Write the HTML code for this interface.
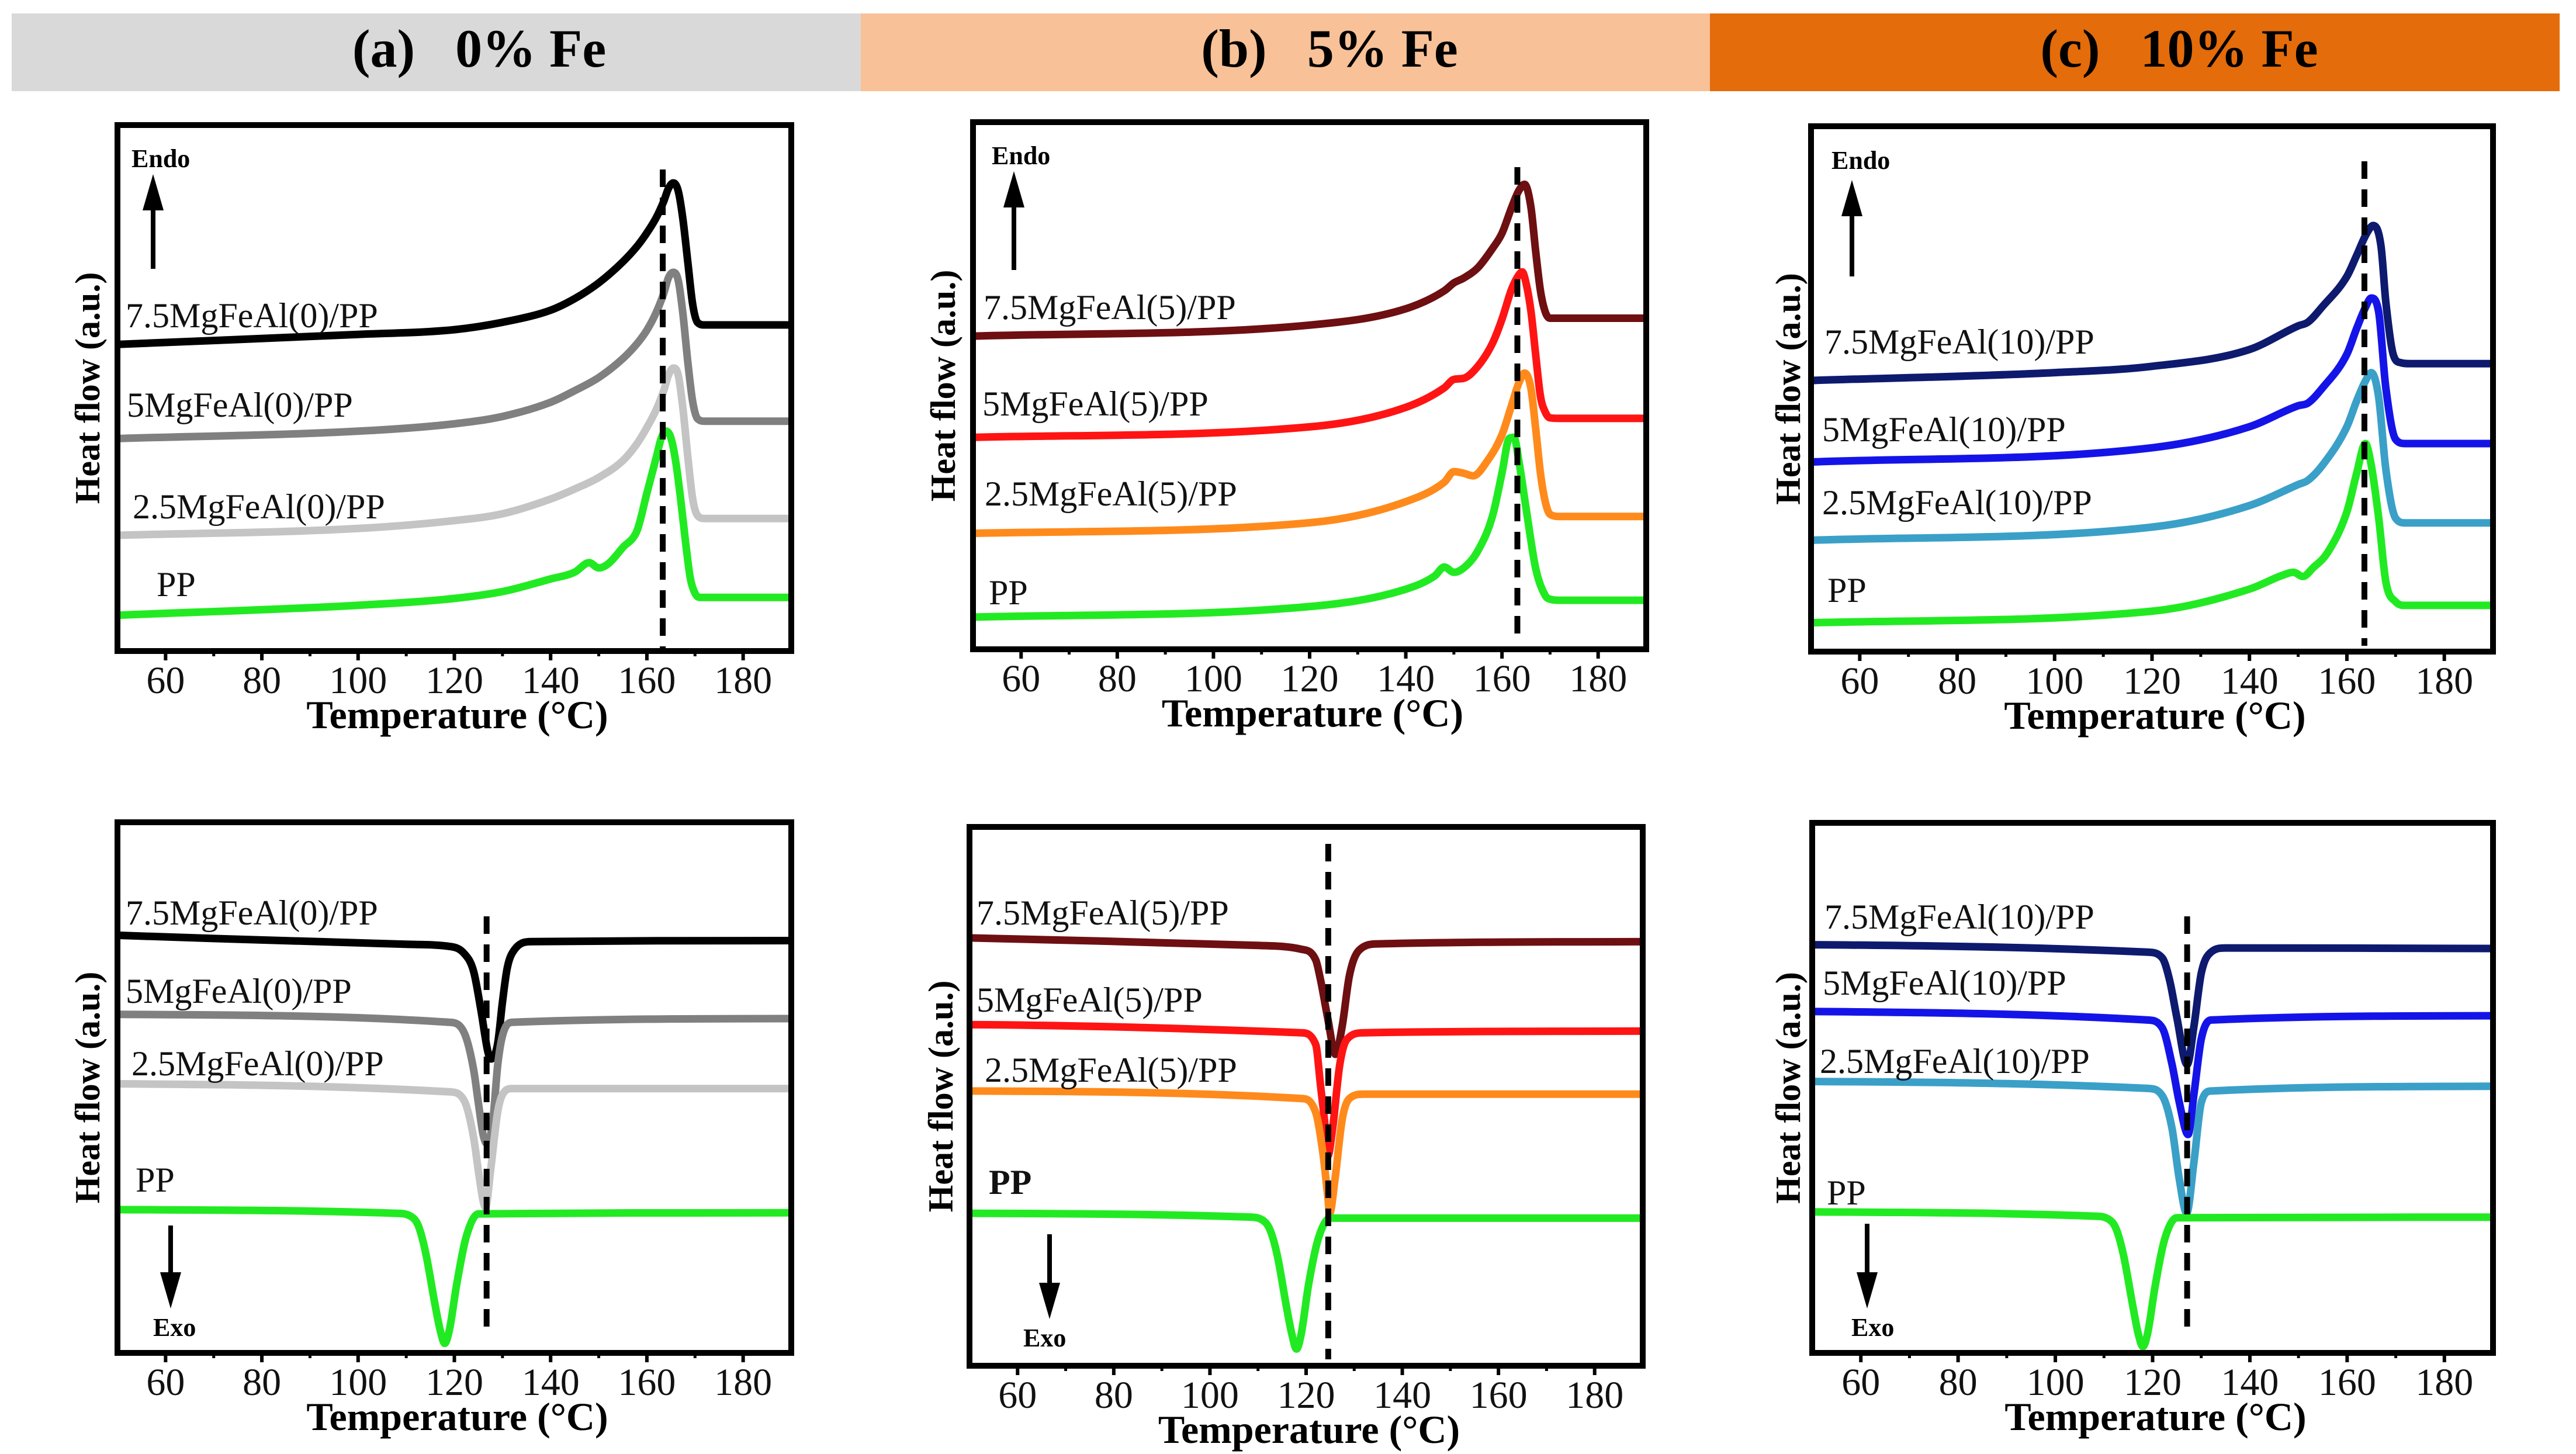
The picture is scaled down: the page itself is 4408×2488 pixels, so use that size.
<!DOCTYPE html>
<html><head><meta charset="utf-8"><style>
html,body{margin:0;padding:0;background:#fff}
svg{display:block}
text{font-family:"Liberation Serif",serif}
</style></head><body>
<svg id="fig" width="4408" height="2488" viewBox="0 0 4408 2488" xmlns="http://www.w3.org/2000/svg">
<rect x="20" y="23" width="1453" height="133" fill="#d9d9d9"/>
<rect x="1473" y="23" width="1453" height="133" fill="#f8c197"/>
<rect x="2926" y="23" width="1454" height="133" fill="#e46c0a"/>
<text x="820" y="114" font-size="92" font-weight="bold" text-anchor="middle" xml:space="preserve">(a)   0% Fe</text>
<text x="2275" y="114" font-size="92" font-weight="bold" text-anchor="middle" xml:space="preserve">(b)   5% Fe</text>
<text x="3729" y="114" font-size="92" font-weight="bold" text-anchor="middle" xml:space="preserve">(c)   10% Fe</text>
</svg>
<script>
// ---- data (temperatures in °C, heat flow as % of panel height) ----
const xTicks = [60, 80, 100, 120, 140, 160, 180];
const xMinor = [70, 90, 110, 130, 150, 170];

// Panel a, melting
const aM_75_T = [50,100,120,130,140,145,150,155,158,160,162,163.5,164.5,165.5,166.5,167.5,168.5,169.5,170.5,172,190];
const aM_75_V = [58.3,60.2,61.1,62.5,64.8,67,70,74,77,79.5,82.5,85.5,88,89,87.5,82,74,66,62.5,62,62];
const aM_5_T = [50,100,120,130,140,145,150,155,158,160,162,163.5,164.5,165.5,166.5,167.5,168.5,169.5,170.5,172,190];
const aM_5_V = [40.4,41.8,43.2,44.6,47.3,49.5,52,55.6,58.5,61,64.5,68,71,72,70.5,64,55,47.5,44.2,43.7,43.7];
const aM_25_T = [50,100,120,130,140,145,150,155,158,160,162,163.5,164.5,165.5,166.5,167.5,168.5,169.5,170.5,172,190];
const aM_25_V = [22,23.3,24.8,26.1,28.9,30.8,33,36.2,39.5,42.5,46,49.5,52.5,53.8,52.5,46,37,29,25.8,25.2,25.2];
const aM_pp_T = [50,100,120,130,140,145,148,150,152,155,158,160,162,163,164,165,166,167,168,169,170,171,190];
const aM_pp_V = [6.8,8.7,10,11.3,13.7,15,16.8,15.8,16.6,19.7,23,30,37,40.5,41.8,40.5,36,29,21,14,11,10.2,10.2];
// Panel b, melting
const bM_75_T = [50,120,140,148,150,152,155,158,160,162,163.5,164.7,166,167,168,169,170,172,190];
const bM_75_V = [59.4,61.5,64.6,68,69.5,70.4,72.4,76,78.9,83.8,87,88.2,84,75.6,68,64,62.8,62.8,62.8];
const bM_5_T = [50,120,140,148,150,152,155,158,160,162,163.5,164.2,165,166,167,168,169,170,172,190];
const bM_5_V = [40.2,42.2,45.9,49.6,51.2,51.4,53.7,58,62.6,68.3,71,71.6,69.5,64.3,56,48,45,43.9,43.8,43.8];
const bM_25_T = [50,120,140,148,150,152,154,157,160,162,163.5,164.7,166,167,168,169,170,172,190];
const bM_25_V = [22,24,28,31.7,33.7,33.4,32.9,35.8,40.7,46.3,50.5,52.4,49.6,42,33.4,28,25.6,25.2,25.2];
const bM_pp_T = [50,120,140,146,148,150,152,155,158,160,161.5,162.5,163.5,165,167,169,170,172,190];
const bM_pp_V = [6.1,8.1,11.4,13.9,15.6,14.6,15.4,18.7,25.2,33.4,40,40.2,35.8,26.8,15.4,10.2,9.5,9.3,9.3];
// Panel c, melting
const cM_75_T = [50,100,120,140,150,152,155,160,162,164,165.4,167,168,169.5,171,173,190];
const cM_75_V = [51.6,53.1,54.3,57.5,62,62.7,65.7,71.4,75.4,79.5,81.1,77.2,66.5,56.6,55,54.8,54.8];
const cM_5_T = [50,120,140,150,152,155,160,162,163.8,165,166.5,168,170,172,190];
const cM_5_V = [36.1,38.8,42.8,46.8,47.3,50.2,56.6,61.5,65.5,67.3,64.8,50.2,40.4,39.6,39.6];
const cM_25_T = [50,120,140,150,152,155,160,162,163.8,165,166.5,168,170,172,190];
const cM_25_V = [21.2,23.7,27.8,31.8,32.6,35.5,42.8,47.7,51.5,53.1,48.6,34.7,25.4,24.5,24.5];
const cM_pp_T = [50,120,140,147,149,151,153,156,160,162,163.8,165,166.5,168,170,172,190];
const cM_pp_V = [5.5,7.7,11.9,14.6,15.1,14.3,15.9,18.8,26.6,33.9,39.6,35.5,25.7,13.3,9.5,8.8,8.8];
// Panel a, crystallization
const aC_75_T = [50,110,119,122,124,125.5,127,127.6,129,130,131,132.5,136,190];
const aC_75_V = [78.7,77,76.6,75.3,71.9,64.7,56.6,55.4,58.3,66.2,72.6,76,77.5,77.7];
const aC_5_T = [50,119,122,124,125,126,126.8,128,129,130,132,190];
const aC_5_V = [63.8,62.3,60.4,53.4,47,41,39.4,43.8,54.2,59.8,62.3,63];
const aC_25_T = [50,119,122,124,125,126,126.5,127.5,129,130,132,190];
const aC_25_V = [50.7,49.2,47.6,40.6,34.2,28.5,27.4,34.2,45.4,48.7,49.8,49.8];
const aC_pp_T = [50,108,111,112.5,114,116,117,118,119,120.5,122.5,125,190];
const aC_pp_V = [27,26.3,25.7,24,19,9,4.5,1.8,4.5,13,22,26.2,26.4];
// Panel b, crystallization
const bC_75_T = [50,110,119,122,123,124.5,126.1,127.5,129,131,135,190];
const bC_75_V = [79.4,78,77.3,75.3,71.6,64.5,57.8,63,72.4,77.1,78.3,78.7];
const bC_5_T = [50,119,122,123,124,124.5,125.5,127,128.5,132,190];
const bC_5_V = [63.3,61.8,59.6,52,44,38.9,44,55.9,60.6,61.8,62.1];
const bC_25_T = [50,119,122,123.5,124.5,124.9,126,127.5,129,132,190];
const bC_25_V = [51,49.6,47,39.4,31.5,28.3,34.6,45.7,49.6,50.4,50.4];
const bC_pp_T = [50,108,111,112.5,114,116,117,118,119,120.5,122.5,125,190];
const bC_pp_V = [28.3,27.6,27,25.2,20.5,10.5,6,3.1,6,15,23.5,27.4,27.4];
// Panel c, crystallization
const cC_75_T = [50,119,122,123.5,125,127.1,128.5,130,132,135,190];
const cC_75_V = [77,75.6,74.5,70.3,63.2,54.4,61.6,71.6,75.6,76.4,76.3];
const cC_5_T = [50,119,122,124,125.5,127.3,128.5,130,132,190];
const cC_5_V = [64.4,62.8,61.3,54.4,47.2,41.2,48.8,59.2,62.8,63.6];
const cC_25_T = [50,119,122,124,125.5,127,128.5,130,132,190];
const cC_25_V = [51.2,49.9,48.5,42.3,32.7,26.4,36,47.2,49.4,50.3];
const cC_pp_T = [50,108,111,112.5,114,116,117,118,119,120.5,122.5,125,190];
const cC_pp_V = [26.6,25.8,25.2,23.4,18.5,8.5,3.8,1.2,3.8,12.5,21.5,25.5,25.6];
// reference (dashed) temperatures
const refTemps = [163.3, 163.2, 163.6, 126.7, 124.6, 127.1];

const NS = "http://www.w3.org/2000/svg";
const svg = document.getElementById('fig');
function mk(tag, attrs, parent){
  const e = document.createElementNS(NS, tag);
  for (const k in attrs) e.setAttribute(k, attrs[k]);
  (parent||svg).appendChild(e);
  return e;
}
function monoPath(pts){
  const n = pts.length; const d=[], m=[];
  for (let i=0;i<n-1;i++) d.push((pts[i+1][1]-pts[i][1])/(pts[i+1][0]-pts[i][0]));
  m.push(d[0]);
  for (let i=1;i<n-1;i++){ m.push(d[i-1]*d[i]<=0?0:(d[i-1]+d[i])/2); }
  m.push(d[n-2]);
  for (let i=0;i<n-1;i++){
    if (d[i]===0){m[i]=0;m[i+1]=0;continue;}
    const a=m[i]/d[i], b=m[i+1]/d[i], s=a*a+b*b;
    if (s>9){const t=3/Math.sqrt(s); m[i]=t*a*d[i]; m[i+1]=t*b*d[i];}
  }
  let p = "M"+pts[0][0].toFixed(1)+","+pts[0][1].toFixed(1);
  for (let i=0;i<n-1;i++){
    const h=(pts[i+1][0]-pts[i][0])/3;
    p += " C"+(pts[i][0]+h).toFixed(1)+","+(pts[i][1]+m[i]*h).toFixed(1)+" "+(pts[i+1][0]-h).toFixed(1)+","+(pts[i+1][1]-m[i+1]*h).toFixed(1)+" "+pts[i+1][0].toFixed(1)+","+pts[i+1][1].toFixed(1);
  }
  return p;
}

const panels = [
 {id:'a-melting', L:201,R:1354,T:214,B:1114, ref:refTemps[0], refY:[290,1111], ylx:150, arrow:'up', ax:262, ay:[460,298], ex:225, ey:286, exSans:false,
  series:[[aM_75_T,aM_75_V,'#000000','7.5MgFeAl(0)/PP',215,560],[aM_5_T,aM_5_V,'#808080','5MgFeAl(0)/PP',217,713],[aM_25_T,aM_25_V,'#c4c4c4','2.5MgFeAl(0)/PP',227,887],[aM_pp_T,aM_pp_V,'#22ea22','PP',268,1020]]},
 {id:'b-melting', L:1665,R:2817,T:209,B:1111, ref:refTemps[1], refY:[286,1089], ylx:1614, arrow:'up', ax:1735, ay:[462,293], ex:1697, ey:281, exSans:false,
  series:[[bM_75_T,bM_75_V,'#6e0f12','7.5MgFeAl(5)/PP',1683,546],[bM_5_T,bM_5_V,'#ff1414','5MgFeAl(5)/PP',1681,711],[bM_25_T,bM_25_V,'#ff8a1c','2.5MgFeAl(5)/PP',1685,865],[bM_pp_T,bM_pp_V,'#22ea22','PP',1692,1034]]},
 {id:'c-melting', L:3099,R:4266,T:216,B:1115, ref:refTemps[2], refY:[276,1105], ylx:3060, arrow:'up', ax:3169, ay:[473,308], ex:3134, ey:289, exSans:true,
  series:[[cM_75_T,cM_75_V,'#0d1a6e','7.5MgFeAl(10)/PP',3122,605],[cM_5_T,cM_5_V,'#1414e8','5MgFeAl(10)/PP',3118,755],[cM_25_T,cM_25_V,'#3aa0c8','2.5MgFeAl(10)/PP',3118,880],[cM_pp_T,cM_pp_V,'#22ea22','PP',3127,1030]]},
 {id:'a-crystallization', L:201,R:1354,T:1407,B:2315, ref:refTemps[3], refY:[1568,2279], ylx:150, arrow:'down', ax:292, ay:[2097,2239], ex:262, ey:2286, exSans:false,
  series:[[aC_75_T,aC_75_V,'#000000','7.5MgFeAl(0)/PP',215,1582],[aC_5_T,aC_5_V,'#808080','5MgFeAl(0)/PP',215,1716],[aC_25_T,aC_25_V,'#c4c4c4','2.5MgFeAl(0)/PP',225,1840],[aC_pp_T,aC_pp_V,'#22ea22','PP',232,2039]]},
 {id:'b-crystallization', L:1659,R:2811,T:1415,B:2337, ref:refTemps[4], refY:[1444,2326], ylx:1610, arrow:'down', ax:1796, ay:[2112,2257], ex:1751, ey:2304, exSans:false,
  series:[[bC_75_T,bC_75_V,'#6e0f12','7.5MgFeAl(5)/PP',1671,1582],[bC_5_T,bC_5_V,'#ff1414','5MgFeAl(5)/PP',1671,1731],[bC_25_T,bC_25_V,'#ff8a1c','2.5MgFeAl(5)/PP',1685,1851],[bC_pp_T,bC_pp_V,'#22ea22','PP',1692,2043]]},
 {id:'c-crystallization', L:3101,R:4266,T:1408,B:2315, ref:refTemps[5], refY:[1568,2285], ylx:3060, arrow:'down', ax:3195, ay:[2094,2239], ex:3168, ey:2286, exSans:false,
  series:[[cC_75_T,cC_75_V,'#0d1a6e','7.5MgFeAl(10)/PP',3122,1589],[cC_5_T,cC_5_V,'#1414e8','5MgFeAl(10)/PP',3119,1702],[cC_25_T,cC_25_V,'#3aa0c8','2.5MgFeAl(10)/PP',3114,1836],[cC_pp_T,cC_pp_V,'#22ea22','PP',3126,2061]]}
];

panels.forEach((p, pi) => {
  const g = mk('g', {});
  
  
  const xs = t => p.L + (t - 50) / 140 * (p.R - p.L);
  const ys = v => p.B - v / 100 * (p.B - p.T);
  const clipId = 'clip' + pi;
  const cp = mk('clipPath', {id: clipId}, g);
  mk('rect', {x:p.L+5, y:p.T+5, width:p.R-p.L-10, height:p.B-p.T-10}, cp);
  p.series.forEach((s, si) => {
    const pts = s[0].map((t, i) => [xs(t), ys(s[1][i])]);
    const path = mk('path', {d: monoPath(pts), fill:'none', stroke:s[2], 'stroke-width':13, 'stroke-linejoin':'round', 'stroke-linecap':'round', 'clip-path':'url(#'+clipId+')'}, g);
    
    
    const lab = mk('text', {x:s[4], y:s[5], 'font-size':60, fill:'#111'}, g);
    if (s[3]==='PP' && p.id==='b-crystallization') lab.setAttribute('font-weight','bold');
    lab.textContent = s[3];
    
    
  });
  const dl = mk('line', {x1:xs(p.ref), x2:xs(p.ref), y1:p.refY[0], y2:p.refY[1], stroke:'#000', 'stroke-width':10, 'stroke-dasharray':'30 18'}, g);
  
  
  const fr = mk('rect', {x:p.L, y:p.T, width:p.R-p.L, height:p.B-p.T, fill:'none', stroke:'#000', 'stroke-width':10}, g);
  
  
  xTicks.forEach(t => {
    const tk = mk('line', {x1:xs(t), x2:xs(t), y1:p.B, y2:p.B+16, stroke:'#000', 'stroke-width':6}, g);
    
    
    const tl = mk('text', {x:xs(t), y:p.B+72, 'font-size':66, 'text-anchor':'middle', fill:'#111'}, g);
    tl.textContent = String(t);
    
    
  });
  xMinor.forEach(t => {
    const tk = mk('line', {x1:xs(t), x2:xs(t), y1:p.B, y2:p.B+9, stroke:'#000', 'stroke-width':5}, g);
    
    
  });
  const xt = mk('text', {x:(p.L+p.R)/2+5, y:p.B+132, 'font-size':68, 'font-weight':'bold', 'text-anchor':'middle'}, g);
  xt.textContent = 'Temperature (°C)';
  
  
  const cy = (p.T + p.B) / 2;
  const yt = mk('text', {x:p.ylx, y:cy, 'font-size':60, 'font-weight':'bold', 'text-anchor':'middle', transform:'rotate(-90 '+p.ylx+' '+cy+')', 'dominant-baseline':'central'}, g);
  yt.textContent = 'Heat flow (a.u.)';
  
  
  const a0 = p.ay[0], a1 = p.ay[1];
  const dir = a1 < a0 ? -1 : 1;
  const shaft = mk('line', {x1:p.ax, x2:p.ax, y1:a0, y2:a1 - dir*50, stroke:'#000', 'stroke-width':8}, g);
  
  
  const head = mk('polygon', {points: (p.ax-18)+','+(a1-dir*62)+' '+(p.ax+18)+','+(a1-dir*62)+' '+p.ax+','+a1, fill:'#000'}, g);
  
  
  const et = mk('text', {x:p.ex, y:p.ey, 'font-size':44, 'font-weight':'bold'}, g);
  if (p.exSans) et.setAttribute('font-family', '"Liberation Sans", sans-serif');
  et.textContent = p.arrow==='up' ? 'Endo' : 'Exo';
  
  
});
</script>
</body></html>
